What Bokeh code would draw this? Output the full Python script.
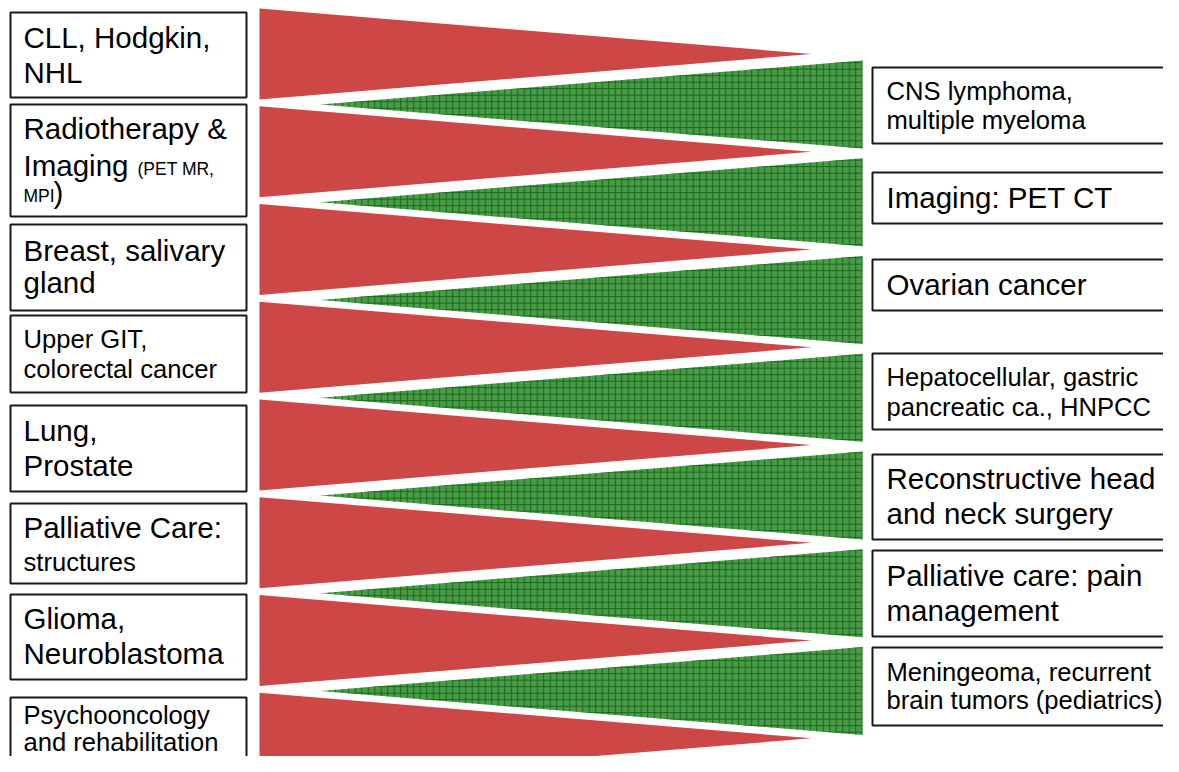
from bokeh.plotting import figure
from bokeh.models import Range1d
from bokeh.core.properties import value
from bokeh.embed import file_html
from bokeh.resources import INLINE

# ---- content ----
left_labels = [
    ["CLL, Hodgkin,", "NHL"],
    ["Radiotherapy &", "Imaging", "(PET MR,", "MPI", ")"],
    ["Breast, salivary", "gland"],
    ["Upper GIT,", "colorectal cancer"],
    ["Lung,", "Prostate"],
    ["Palliative Care:", "structures"],
    ["Glioma,", "Neuroblastoma"],
    ["Psychooncology", "and rehabilitation"],
]
right_labels = [
    ["CNS lymphoma,", "multiple myeloma"],
    ["Imaging: PET CT"],
    ["Ovarian cancer"],
    ["Hepatocellular, gastric", "pancreatic ca., HNPCC"],
    ["Reconstructive head", "and neck surgery"],
    ["Palliative care: pain", "management"],
    ["Meningeoma, recurrent", "brain tumors (pediatrics)"],
]

# ---- layout (pixel-like coordinates) ----
BIG, MED, SMALL = 29.5, 25.6, 17.5
left_boxes = [(12, 97), (104, 216), (224, 310), (315, 392), (405, 491), (503, 583), (594, 679), (697, 790)]
left_lines = [
    [(23, 47, BIG), (23, 82, BIG)],
    [(23, 138, BIG), (23, 175, BIG), (137, 175, SMALL), (23, 202, SMALL), (53, 202, BIG)],
    [(23, 260, BIG), (23, 292, BIG)],
    [(23, 347, MED), (23, 377, MED)],
    [(23, 440, BIG), (23, 475, BIG)],
    [(23, 537, BIG), (23, 570, MED)],
    [(23, 628, BIG), (23, 663, BIG)],
    [(23, 723, MED), (23, 750, MED)],
]
right_boxes = [(67, 143), (172, 223), (259, 310), (353, 429), (454, 539), (550, 636), (647, 725)]
right_lines = [
    [(886, 99, MED), (886, 128, MED)],
    [(886, 207, BIG)],
    [(886, 294, BIG)],
    [(886, 385, MED), (886, 415, MED)],
    [(886, 488, BIG), (886, 523, BIG)],
    [(886, 585, BIG), (886, 620, BIG)],
    [(886, 680, MED), (886, 708, MED)],
]

RED_X0, RED_TIP = 259, 811
GREEN_X0, GREEN_TIP = 862, 320
PERIOD = 97.75
RED_TOP0, RED_H = 8, 91
GREEN_TOP0, GREEN_H = 60, 88

p = figure(width=1163, height=756, output_backend="svg", toolbar_location=None,
           x_range=Range1d(0, 1163), y_range=Range1d(756, 0),
           min_border=0, background_fill_color="white", border_fill_color="white")
p.axis.visible = False
p.grid.visible = False
p.outline_line_color = None

# red wedges
rxs, rys = [], []
for i in range(len(left_labels)):
    top = RED_TOP0 + PERIOD * i
    bot = top + RED_H
    rxs.append([RED_X0, RED_X0, RED_TIP])
    rys.append([top, bot, (top + bot) / 2])
p.patches(rxs, rys, fill_color="#cc4745", line_color=None)

# green wedges
gxs, gys = [], []
for i in range(len(right_labels)):
    top = GREEN_TOP0 + PERIOD * i
    bot = top + GREEN_H
    gxs.append([GREEN_X0, GREEN_X0, GREEN_TIP])
    gys.append([top, bot, (top + bot) / 2])
p.patches(gxs, gys, fill_color="#4a9a4a", line_color=None,
          hatch_pattern="+", hatch_color="#146914", hatch_scale=6.5, hatch_weight=1.0)

# boxes
p.quad(left=[10] * len(left_boxes), right=[246] * len(left_boxes),
       top=[b[0] for b in left_boxes], bottom=[b[1] for b in left_boxes],
       fill_color="white", line_color="#1a1a1a", line_width=2)
p.quad(left=[872] * len(right_boxes), right=[1177] * len(right_boxes),
       top=[b[0] for b in right_boxes], bottom=[b[1] for b in right_boxes],
       fill_color="white", line_color="#1a1a1a", line_width=2)

# texts (y given as baseline; shift to compensate for the renderer's baseline placement)
def add_texts(labels, lines):
    for lab, ln in zip(labels, lines):
        for t, (x, y, s) in zip(lab, ln):
            p.text(x=[x], y=[y - 0.35 * s], text=[t], text_font=value("Liberation Sans"),
                   text_font_size=f"{s}px", text_color="black",
                   text_baseline="alphabetic", text_align="left")

add_texts(left_labels, left_lines)
add_texts(right_labels, right_lines)

open("out.html", "w").write(file_html(p, INLINE))
